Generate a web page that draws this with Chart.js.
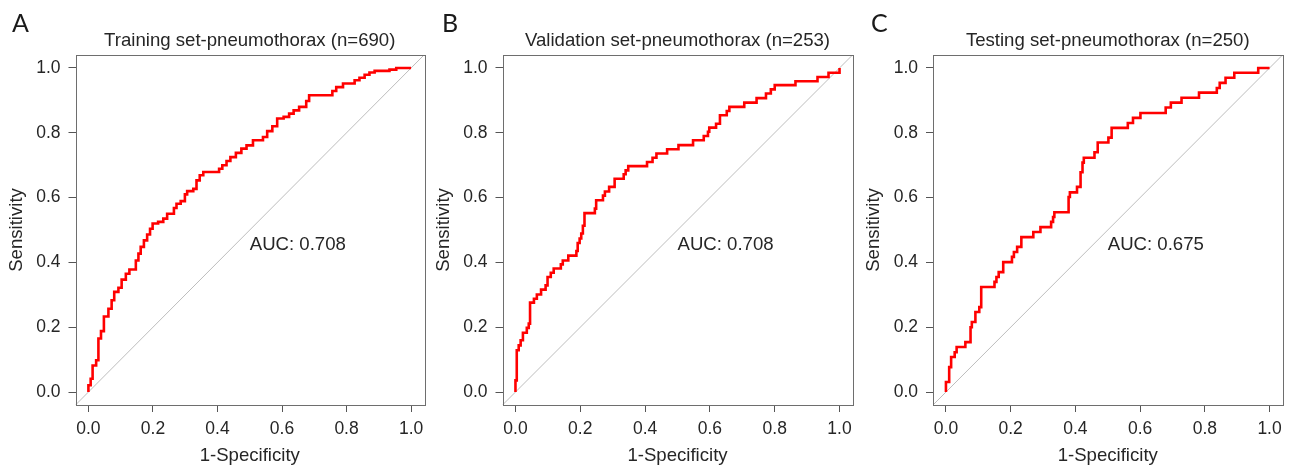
<!DOCTYPE html>
<html>
<head>
<meta charset="utf-8">
<script src="https://cdn.jsdelivr.net/npm/chart.js@4.4.1/dist/chart.umd.min.js"></script>
<style>
  html, body { margin: 0; padding: 0; background: #ffffff; }
  body { width: 1294px; height: 467px; position: relative; overflow: hidden; }
  canvas { position: absolute; left: 0; top: 0; }
</style>
</head>
<body>
<canvas id="chartA" width="1294" height="467"></canvas>
<canvas id="chartB" width="1294" height="467"></canvas>
<canvas id="chartC" width="1294" height="467"></canvas>
<script>
// ---------- data ----------
const tickValues = [0, 0.2, 0.4, 0.6, 0.8, 1.0];
const tickLabels = ['0.0', '0.2', '0.4', '0.6', '0.8', '1.0'];
const axisRange = [-0.04, 1.04];
const panelLetters = ['A', 'B', 'C'];
const panelTitles = [
  'Training set-pneumothorax (n=690)',
  'Validation set-pneumothorax (n=253)',
  'Testing set-pneumothorax (n=250)'
];
const aucLabels = ['AUC: 0.708', 'AUC: 0.708', 'AUC: 0.675'];
const xTitle = '1-Specificity';
const yTitle = 'Sensitivity';

// Training set: 1-specificity / sensitivity
const trainFPR = [0, 0, 0.007, 0.013, 0.024, 0.031, 0.039, 0.048, 0.062, 0.072, 0.080, 0.093, 0.103, 0.116, 0.127, 0.147, 0.155, 0.162, 0.172, 0.182, 0.191, 0.199, 0.216, 0.232, 0.244, 0.265, 0.273, 0.286, 0.299, 0.306, 0.325, 0.335, 0.345, 0.356, 0.405, 0.415, 0.428, 0.440, 0.457, 0.474, 0.490, 0.510, 0.541, 0.554, 0.570, 0.585, 0.605, 0.622, 0.636, 0.653, 0.675, 0.684, 0.756, 0.768, 0.789, 0.825, 0.840, 0.856, 0.871, 0.887, 0.933, 0.954, 1.0];
const trainTPR = [0, 0.021, 0.041, 0.082, 0.098, 0.165, 0.188, 0.233, 0.257, 0.283, 0.309, 0.322, 0.347, 0.365, 0.378, 0.406, 0.427, 0.448, 0.468, 0.486, 0.504, 0.520, 0.525, 0.535, 0.550, 0.568, 0.581, 0.589, 0.610, 0.620, 0.627, 0.653, 0.669, 0.679, 0.689, 0.700, 0.713, 0.725, 0.738, 0.751, 0.761, 0.777, 0.787, 0.805, 0.820, 0.844, 0.849, 0.859, 0.869, 0.880, 0.898, 0.916, 0.929, 0.941, 0.952, 0.962, 0.970, 0.979, 0.986, 0.991, 0.995, 1.0, 1.0];

// Validation set
const validFPR = [0, 0, 0.004, 0.010, 0.016, 0.023, 0.035, 0.041, 0.045, 0.057, 0.066, 0.079, 0.093, 0.099, 0.109, 0.118, 0.140, 0.146, 0.163, 0.188, 0.192, 0.198, 0.203, 0.208, 0.213, 0.245, 0.249, 0.270, 0.276, 0.289, 0.306, 0.334, 0.340, 0.348, 0.406, 0.423, 0.435, 0.468, 0.503, 0.548, 0.581, 0.594, 0.598, 0.619, 0.631, 0.652, 0.660, 0.706, 0.744, 0.773, 0.788, 0.800, 0.864, 0.932, 0.966, 1.0];
const validTPR = [0, 0.036, 0.129, 0.144, 0.160, 0.183, 0.198, 0.211, 0.276, 0.288, 0.301, 0.316, 0.329, 0.355, 0.368, 0.381, 0.394, 0.406, 0.421, 0.435, 0.460, 0.474, 0.489, 0.513, 0.552, 0.566, 0.592, 0.606, 0.619, 0.633, 0.658, 0.672, 0.684, 0.697, 0.710, 0.723, 0.736, 0.749, 0.762, 0.777, 0.790, 0.803, 0.816, 0.828, 0.854, 0.867, 0.880, 0.893, 0.907, 0.921, 0.934, 0.947, 0.959, 0.972, 0.985, 1.0];

// Testing set
const testFPR = [0, 0, 0.010, 0.016, 0.027, 0.033, 0.060, 0.076, 0.080, 0.091, 0.103, 0.109, 0.150, 0.156, 0.163, 0.177, 0.204, 0.210, 0.220, 0.233, 0.270, 0.292, 0.325, 0.331, 0.335, 0.379, 0.383, 0.405, 0.416, 0.422, 0.426, 0.459, 0.469, 0.502, 0.512, 0.562, 0.578, 0.601, 0.679, 0.695, 0.728, 0.782, 0.837, 0.846, 0.864, 0.891, 0.965, 1.0];
const testTPR = [0, 0.031, 0.077, 0.108, 0.123, 0.139, 0.154, 0.200, 0.216, 0.247, 0.262, 0.324, 0.340, 0.355, 0.370, 0.401, 0.417, 0.432, 0.448, 0.478, 0.494, 0.509, 0.525, 0.540, 0.555, 0.602, 0.616, 0.633, 0.678, 0.708, 0.723, 0.740, 0.770, 0.785, 0.815, 0.830, 0.846, 0.861, 0.878, 0.893, 0.908, 0.924, 0.938, 0.954, 0.970, 0.985, 1.0, 1.0];

// ---------- layout / style ----------
const FONT = '"Liberation Sans", Arial, Helvetica, sans-serif';
const TEXT_COLOR = '#262626';
const panels = [
  { id: 'chartA', fpr: trainFPR, tpr: trainTPR, box: [75.5, 424], letterX: 12 },
  { id: 'chartB', fpr: validFPR, tpr: validTPR, box: [502.5, 852.5], letterX: 442 },
  { id: 'chartC', fpr: testFPR, tpr: testTPR, box: [933, 1282.5], letterX: 871 }
];
const Y_AXIS_W = 70;
const X_AXIS_H = 62;
const TOP = 55;

function zip(xs, ys) { return xs.map((x, i) => ({ x: x, y: ys[i] })); }

panels.forEach((p, idx) => {
  const decor = {
    id: 'decor' + idx,
    afterDraw(chart) {
      const { ctx, chartArea: a, scales } = chart;
      ctx.save();
      // frame box
      ctx.strokeStyle = '#6e6e6e';
      ctx.lineWidth = 1;
      ctx.strokeRect(Math.round(a.left) + 0.5, Math.round(a.top) + 0.5,
                     Math.round(a.right - a.left), Math.round(a.bottom - a.top));
      // title
      ctx.fillStyle = TEXT_COLOR;
      ctx.font = '18.6px ' + FONT;
      ctx.textAlign = 'center';
      ctx.textBaseline = 'alphabetic';
      ctx.fillText(panelTitles[idx], (a.left + a.right) / 2, a.top - 9);
      // AUC label
      ctx.textAlign = 'left';
      ctx.textBaseline = 'middle';
      ctx.fillText(aucLabels[idx], scales.x.getPixelForValue(0.5), scales.y.getPixelForValue(0.453));
      // panel letter
      ctx.font = '25px Lato, ' + FONT;
      ctx.fillStyle = '#1a1a1a';
      ctx.textBaseline = 'alphabetic';
      ctx.fillText(panelLetters[idx], p.letterX, 32);
      ctx.restore();
    }
  };

  const tickFont = { family: FONT, size: 17.5 };
  const titleFont = { family: FONT, size: 18.6 };

  new Chart(document.getElementById(p.id), {
    type: 'line',
    data: {
      datasets: [
        {
          data: zip(p.fpr, p.tpr),
          borderColor: '#ff0000',
          borderWidth: 2.6,
          stepped: 'before',
          pointRadius: 0,
          fill: false,
          borderJoinStyle: 'miter',
          borderCapStyle: 'butt'
        },
        {
          data: zip(axisRange, axisRange),
          borderColor: '#bdbdbd',
          borderWidth: 1,
          pointRadius: 0,
          fill: false
        }
      ]
    },
    options: {
      responsive: false,
      animation: false,
      events: [],
      layout: {
        padding: { left: p.box[0] - Y_AXIS_W, right: 1294 - p.box[1], top: TOP, bottom: 0 }
      },
      plugins: { legend: { display: false }, tooltip: { enabled: false }, title: { display: false } },
      scales: {
        x: {
          type: 'linear',
          min: axisRange[0],
          max: axisRange[1],
          afterBuildTicks: s => { s.ticks = tickValues.map(v => ({ value: v })); },
          afterFit: s => { s.height = X_AXIS_H; },
          ticks: {
            autoSkip: false, maxRotation: 0, minRotation: 0, padding: 7,
            color: TEXT_COLOR, font: tickFont,
            callback: v => tickLabels[tickValues.indexOf(v)]
          },
          grid: { display: true, drawOnChartArea: false, drawTicks: true, tickLength: 7, color: '#555555', lineWidth: 1 },
          border: { display: false },
          title: { display: true, text: xTitle, color: TEXT_COLOR, font: titleFont, padding: { top: 0, bottom: 0 } }
        },
        y: {
          type: 'linear',
          min: axisRange[0],
          max: axisRange[1],
          afterBuildTicks: s => { s.ticks = tickValues.map(v => ({ value: v })); },
          afterFit: s => { s.width = Y_AXIS_W; },
          ticks: {
            autoSkip: false, padding: 8,
            color: TEXT_COLOR, font: tickFont,
            callback: v => tickLabels[tickValues.indexOf(v)]
          },
          grid: { display: true, drawOnChartArea: false, drawTicks: true, tickLength: 7, color: '#555555', lineWidth: 1 },
          border: { display: false },
          title: { display: true, text: yTitle, color: TEXT_COLOR, font: titleFont, padding: { top: 0, bottom: 0 } }
        }
      }
    },
    plugins: [decor]
  });
});
</script>
</body>
</html>
